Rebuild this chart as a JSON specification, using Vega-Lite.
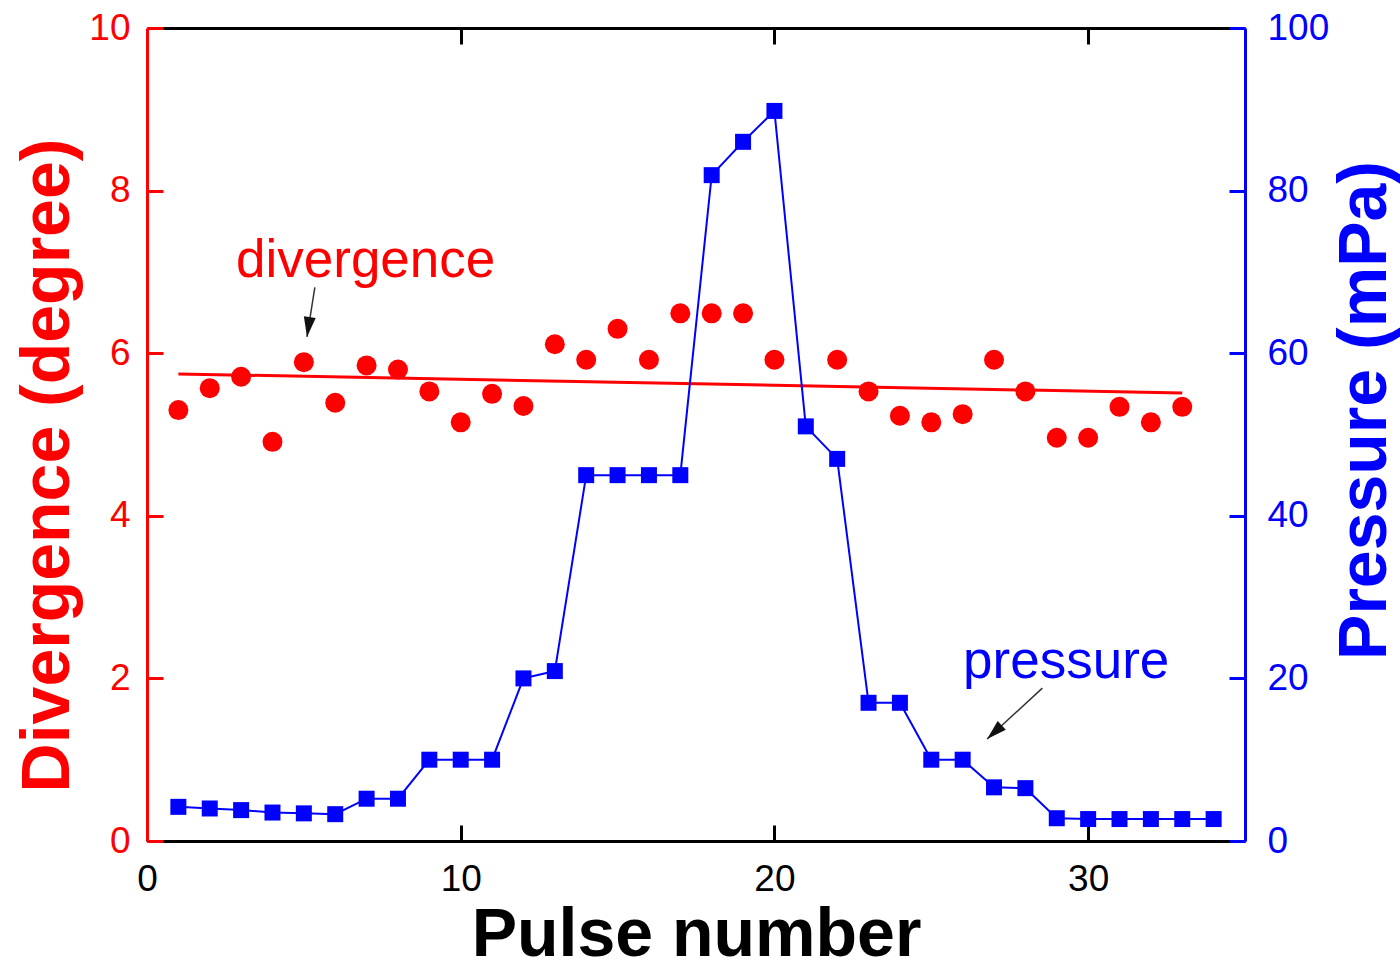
{
  "$schema": "https://vega.github.io/schema/vega-lite/v6.json",
  "width": 1098,
  "height": 813,
  "autosize": {"type": "none"},
  "padding": {"left": 147, "top": 28, "right": 155, "bottom": 133},
  "background": "white",
  "config": {
    "view": {"stroke": null},
    "font": "Liberation Sans",
    "axis": {"grid": false, "labelFont": "Liberation Sans", "titleFont": "Liberation Sans"}
  },
  "datasets": {
    "divergence": [
      {"pulse": 1, "div": 5.30}, {"pulse": 2, "div": 5.57}, {"pulse": 3, "div": 5.71},
      {"pulse": 4, "div": 4.91}, {"pulse": 5, "div": 5.89}, {"pulse": 6, "div": 5.39},
      {"pulse": 7, "div": 5.85}, {"pulse": 8, "div": 5.80}, {"pulse": 9, "div": 5.53},
      {"pulse": 10, "div": 5.15}, {"pulse": 11, "div": 5.50}, {"pulse": 12, "div": 5.35},
      {"pulse": 13, "div": 6.11}, {"pulse": 14, "div": 5.92}, {"pulse": 15, "div": 6.30},
      {"pulse": 16, "div": 5.92}, {"pulse": 17, "div": 6.49}, {"pulse": 18, "div": 6.49},
      {"pulse": 19, "div": 6.49}, {"pulse": 20, "div": 5.92}, {"pulse": 22, "div": 5.92},
      {"pulse": 23, "div": 5.53}, {"pulse": 24, "div": 5.23}, {"pulse": 25, "div": 5.15},
      {"pulse": 26, "div": 5.25}, {"pulse": 27, "div": 5.92}, {"pulse": 28, "div": 5.53},
      {"pulse": 29, "div": 4.96}, {"pulse": 30, "div": 4.96}, {"pulse": 31, "div": 5.34},
      {"pulse": 32, "div": 5.15}, {"pulse": 33, "div": 5.34}
    ],
    "fit": [{"pulse": 1, "div": 5.745}, {"pulse": 33, "div": 5.51}],
    "pressure": [
      {"pulse": 1, "p": 4.2}, {"pulse": 2, "p": 4.0}, {"pulse": 3, "p": 3.8},
      {"pulse": 4, "p": 3.5}, {"pulse": 5, "p": 3.4}, {"pulse": 6, "p": 3.3},
      {"pulse": 7, "p": 5.2}, {"pulse": 8, "p": 5.2}, {"pulse": 9, "p": 10},
      {"pulse": 10, "p": 10}, {"pulse": 11, "p": 10}, {"pulse": 12, "p": 20},
      {"pulse": 13, "p": 20.9}, {"pulse": 14, "p": 45}, {"pulse": 15, "p": 45},
      {"pulse": 16, "p": 45}, {"pulse": 17, "p": 45}, {"pulse": 18, "p": 81.9},
      {"pulse": 19, "p": 86}, {"pulse": 20, "p": 89.8}, {"pulse": 21, "p": 51},
      {"pulse": 22, "p": 47}, {"pulse": 23, "p": 17}, {"pulse": 24, "p": 17},
      {"pulse": 25, "p": 10}, {"pulse": 26, "p": 10}, {"pulse": 27, "p": 6.6},
      {"pulse": 28, "p": 6.5}, {"pulse": 29, "p": 2.8}, {"pulse": 30, "p": 2.7},
      {"pulse": 31, "p": 2.7}, {"pulse": 32, "p": 2.7}, {"pulse": 33, "p": 2.7},
      {"pulse": 34, "p": 2.7}
    ],
    "labels": [
      {"pulse": 6.97, "div": 6.94, "label": "divergence", "series": "divergence"},
      {"pulse": 29.3, "div": 2.0, "label": "pressure", "series": "pressure"}
    ],
    "arrows": [
      {"pulse": 5.35, "div": 6.81, "pulse2": 5.10, "div2": 6.20, "series": "divergence"},
      {"pulse": 28.54, "div": 1.88, "pulse2": 26.78, "div2": 1.255, "series": "pressure"}
    ]
  },
  "resolve": {"scale": {"y": "independent"}, "axis": {"x": "independent"}},
  "layer": [
    {
      "encoding": {
        "x": {
          "field": "pulse", "type": "quantitative",
          "scale": {"domain": [0, 35], "nice": false},
          "axis": {
            "orient": "bottom", "values": [0, 10, 20, 30], "title": "Pulse number",
            "domainColor": "black", "domainWidth": 3, "tickColor": "black", "tickWidth": 3,
            "tickSize": -16, "labelPadding": 36, "labelFlush": false,
            "labelFontSize": 37, "labelColor": "black",
            "titleFontSize": 68, "titleFontWeight": "bold", "titleColor": "black", "titlePadding": 4
          }
        },
        "y": {
          "field": "div", "type": "quantitative",
          "scale": {"domain": [0, 10], "nice": false},
          "axis": {
            "orient": "left", "values": [0, 2, 4, 6, 8, 10], "title": "Divergence (degree)",
            "domainColor": "#ff0000", "domainWidth": 3, "tickColor": "#ff0000", "tickWidth": 3,
            "tickSize": -16, "labelPadding": 33, "labelFlush": false,
            "labelFontSize": 37, "labelColor": "#ff0000",
            "titleFontSize": 68, "titleFontWeight": "bold", "titleColor": "#ff0000",
            "titlePadding": 6, "titleY": 437
          }
        }
      },
      "layer": [
        {
          "data": {"name": "fit"},
          "mark": {"type": "line", "color": "#ff0000", "strokeWidth": 3}
        },
        {
          "data": {"name": "divergence"},
          "mark": {"type": "point", "shape": "circle", "filled": true, "color": "#ff0000", "size": 400, "opacity": 1}
        },
        {
          "data": {"name": "arrows"},
          "mark": {"type": "rule", "color": "#333333", "strokeWidth": 1.5},
          "encoding": {
            "x2": {"field": "pulse2"},
            "y2": {"field": "div2"}
          }
        },
        {
          "data": {"name": "arrows"},
          "transform": [{"filter": "datum.series == 'divergence'"}],
          "mark": {"type": "point", "shape": "M0,0L0.6,2L-0.6,2Z", "filled": true, "color": "#111111", "size": 400, "angle": 188, "opacity": 1},
          "encoding": {
            "x": {"field": "pulse2", "type": "quantitative"},
            "y": {"field": "div2", "type": "quantitative"}
          }
        },
        {
          "data": {"name": "arrows"},
          "transform": [{"filter": "datum.series == 'pressure'"}],
          "mark": {"type": "point", "shape": "M0,0L0.6,2L-0.6,2Z", "filled": true, "color": "#111111", "size": 400, "angle": 227, "opacity": 1},
          "encoding": {
            "x": {"field": "pulse2", "type": "quantitative"},
            "y": {"field": "div2", "type": "quantitative"}
          }
        },
        {
          "data": {"name": "labels"},
          "mark": {"type": "text", "fontSize": 53, "font": "Liberation Sans", "align": "center", "baseline": "alphabetic"},
          "encoding": {
            "text": {"field": "label"},
            "color": {
              "field": "series", "type": "nominal",
              "scale": {"domain": ["divergence", "pressure"], "range": ["#ff0000", "#0000ff"]},
              "legend": null
            }
          }
        }
      ]
    },
    {
      "data": {"name": "pressure"},
      "mark": {
        "type": "line", "color": "#0000ff", "strokeWidth": 2,
        "point": {"shape": "square", "filled": true, "color": "#0000ff", "size": 256, "opacity": 1}
      },
      "encoding": {
        "x": {
          "field": "pulse", "type": "quantitative",
          "scale": {"domain": [0, 35], "nice": false},
          "axis": {
            "orient": "top", "values": [10, 20, 30], "title": null, "labels": false,
            "domainColor": "black", "domainWidth": 3, "tickColor": "black", "tickWidth": 3,
            "tickSize": -16
          }
        },
        "y": {
          "field": "p", "type": "quantitative",
          "scale": {"domain": [0, 100], "nice": false},
          "axis": {
            "orient": "right", "values": [0, 20, 40, 60, 80, 100], "title": "Pressure (mPa)",
            "domainColor": "#0000ff", "domainWidth": 3, "tickColor": "#0000ff", "tickWidth": 3,
            "tickSize": -16, "labelPadding": 38, "labelFlush": false,
            "labelFontSize": 37, "labelColor": "#0000ff",
            "titleFontSize": 68, "titleFontWeight": "bold", "titleColor": "#0000ff",
            "titleAngle": 270, "titleBaseline": "top", "titlePadding": 3, "titleY": 382
          }
        }
      }
    }
  ]
}
